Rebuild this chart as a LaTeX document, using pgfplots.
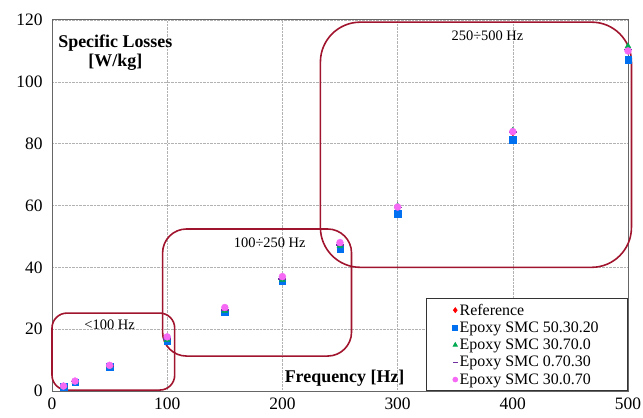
\documentclass[border=0pt]{standalone}
\usepackage{pgfplots}
\pgfplotsset{compat=1.18}
\usepackage{fontspec}
\setmainfont{Liberation Serif}
\definecolor{boxred}{RGB}{160,20,45}
\definecolor{sblue}{RGB}{0,112,240}
\definecolor{sgreen}{RGB}{0,170,80}
\definecolor{spurple}{RGB}{112,48,160}
\definecolor{spink}{RGB}{245,105,245}
\begin{document}
\begin{tikzpicture}
\begin{axis}[
  scale only axis, width=576bp, height=371bp,
  xmin=0, xmax=500, ymin=0, ymax=120,
  xtick={0,100,...,500}, ytick={0,20,...,120},
  /pgf/number format/assume math mode=true,
  tick label style={font=\fontsize{17.5}{19}\selectfont, text=black},
  yticklabel style={xshift=-6pt},
  xticklabel style={yshift=-3pt},
  grid=major,
  grid style={gray!60, densely dotted, line width=0.5pt},
  axis line style={gray!80!black, line width=1pt},
  tick style={draw=none},
  legend style={at={(1,0)}, anchor=south east, draw=black!80, line width=0.8pt, fill=white,
    font=\fontsize{16}{17}\selectfont, row sep=1.2pt, inner xsep=27pt, inner ysep=3pt},
  legend image post style={mark size=2.4pt},
  legend cell align=left,
  clip=false,
]
\addplot[only marks, mark=diamond*, mark size=3pt, color=red] coordinates {
 (10,1.6) (20,3.2) (50,8.2) (100,17.0) (150,26.5) (200,36.5) (250,47.5) (300,59) (400,83.5) (500,110)};
\addlegendentry{Reference}
\addplot[only marks, mark=square*, mark size=3.3pt, color=sblue] coordinates {
 (10,1.4) (20,2.9) (50,7.8) (100,16.2) (150,25.5) (200,35.5) (250,46) (300,57.3) (400,81.2) (500,107.1)};
\addlegendentry{Epoxy SMC 50.30.20}
\addplot[only marks, mark=triangle*, mark size=3.5pt, color=sgreen] coordinates {
 (10,1.5) (20,3.0) (50,8.0) (100,16.5) (150,26.0) (200,36.0) (250,47) (300,59.8) (400,84.2) (500,111.5)};
\addlegendentry{Epoxy SMC 30.70.0}
\addplot[only marks, mark=-, mark size=4pt, mark options={line width=1.5pt}, color=spurple] coordinates {
 (10,1.5) (20,3.1) (50,8.1) (100,16.8) (150,26.2) (200,36.2) (250,47.3) (300,59.3) (400,83.8) (500,110.5)};
\addlegendentry{Epoxy SMC 0.70.30}
\addplot[only marks, mark=*, mark size=3.5pt, color=spink] coordinates {
 (10,1.6) (20,3.2) (50,8.3) (100,17.5) (150,27) (200,37) (250,48) (300,59.5) (400,83.9) (500,110)};
\addlegendentry{Epoxy SMC 30.0.70}

\draw[boxred, line width=1.6pt, rounded corners=15pt] (axis cs:0,0.3) rectangle (axis cs:106.5,25.2);
\draw[boxred, line width=1.6pt, rounded corners=24pt] (axis cs:96,11.3) rectangle (axis cs:260,52.4);
\draw[boxred, line width=1.6pt, rounded corners=40pt] (axis cs:233,40) rectangle (axis cs:503,119.3);

\node[font=\fontsize{14.5}{15}\selectfont] at (axis cs:50,21.3) {<100 Hz};
\node[font=\fontsize{14.5}{15}\selectfont] at (axis cs:189,48) {100÷250 Hz};
\node[font=\fontsize{14.5}{15}\selectfont] at (axis cs:378,114.8) {250÷500 Hz};
\node[font=\fontsize{18}{19}\selectfont\bfseries, align=center] at (axis cs:55,109.4) {Specific Losses\\{[W/kg]}};
\node[font=\fontsize{18}{19}\selectfont\bfseries] at (axis cs:254,4.2) {Frequency [Hz]};
\end{axis}
\pgfresetboundingbox
\path ([shift={(-52bp,-27bp)}]current axis.south west) rectangle ([shift={(15bp,20bp)}]current axis.north east);
\end{tikzpicture}
\end{document}
